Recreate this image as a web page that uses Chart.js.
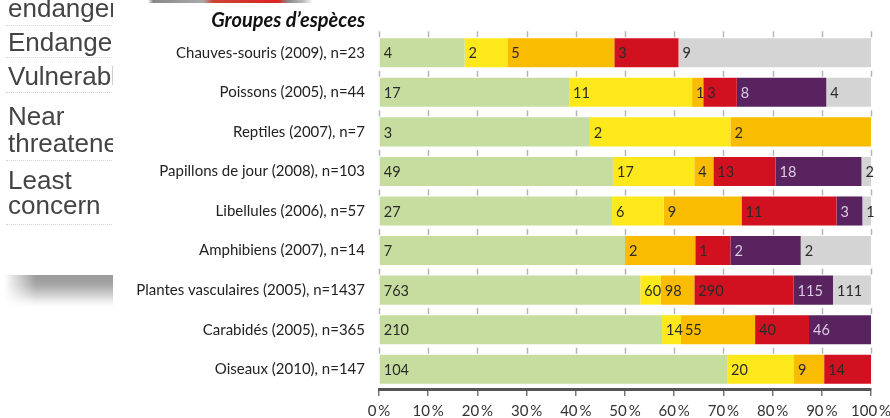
<!DOCTYPE html>
<html>
<head>
<meta charset="utf-8">
<script src="https://cdn.jsdelivr.net/npm/chart.js@4.4.1/dist/chart.umd.min.js"></script>
<style>
  html, body { margin: 0; padding: 0; background: #fff; }
  #wrap { position: relative; width: 890px; height: 418px; overflow: hidden; background: #fff; }
  #chart { position: absolute; left: 0; top: 0; }
  #title { position: absolute; right: 525px; top: 7px; font: italic bold 20px Lato, sans-serif; color: #111; white-space: nowrap; }
  #side { position: absolute; left: 0; top: 0; width: 113px; height: 418px; background: #fff; overflow: hidden; }
  #side .lab { position: absolute; left: 8px; font: 26px "Liberation Sans", Arial, sans-serif; line-height: 26px; color: #444; white-space: nowrap; filter: blur(0.5px); }
  #side .rule { position: absolute; left: 6px; width: 120px; height: 1px; border-top: 1px dotted #d4d4d4; }
  #band { position: absolute; left: 0; top: 275px; width: 113px; height: 32px;
          background: linear-gradient(to bottom, #9a9a9a 0%, #a6a6a6 30%, #cdcdcd 60%, #f2f2f2 85%, #fff 100%); }
  #bandFade { position: absolute; left: 0; top: 270px; width: 40px; height: 40px;
          background: linear-gradient(to right, #fff 4px, rgba(255,255,255,0) 36px); }
  #topStrip { position: absolute; left: 113px; top: 0; width: 777px; height: 3px;
          background: linear-gradient(to right, #fff 0px, #fff 35px, #888 40px, #aaa 90px, #c43 100px, #d22 165px, #888 175px, #bbb 190px, #fff 200px, #fff 100%); }
</style>
</head>
<body>
<div id="wrap">
  <canvas id="chart" width="890" height="418"></canvas>
  <div id="title">Groupes d’espèces</div>
  <div id="topStrip"></div>
  <div id="side">
    <div class="lab" style="top:-5px">endanger</div>
    <div class="rule" style="top:25px"></div>
    <div class="lab" style="top:29px">Endanger</div>
    <div class="rule" style="top:57px"></div>
    <div class="lab" style="top:63px">Vulnerabl</div>
    <div class="rule" style="top:92px"></div>
    <div class="lab" style="top:103px">Near</div>
    <div class="lab" style="top:130px">threatene</div>
    <div class="rule" style="top:160px"></div>
    <div class="lab" style="top:167px">Least</div>
    <div class="lab" style="top:192px">concern</div>
    <div class="rule" style="top:224px"></div>
    <div id="band"></div>
    <div id="bandFade"></div>
  </div>
</div>
<script>
// groupes d'espèces, liste rouge
const categories = [
    'Chauves-souris (2009), n=23',
    'Poissons (2005), n=44',
    'Reptiles (2007), n=7',
    'Papillons de jour (2008), n=103',
    'Libellules (2006), n=57',
    'Amphibiens (2007), n=14',
    'Plantes vasculaires (2005), n=1437',
    'Carabidés (2005), n=365',
    'Oiseaux (2010), n=147'
];
const totals = [23, 44, 7, 103, 57, 14, 1437, 365, 147];

// nombre d'espèces par catégorie
const lcCounts = [4, 17, 3, 49, 27, 7, 763, 210, 104];
const ntCounts = [2, 11, 2, 17, 6, 0, 60, 14, 20];
const vuCounts = [5, 1, 2, 4, 9, 2, 98, 55, 9];
const enCounts = [3, 3, 0, 13, 11, 1, 290, 40, 14];
const crCounts = [0, 8, 0, 18, 3, 2, 115, 46, 0];
const reCounts = [9, 4, 0, 2, 1, 2, 111, 0, 0];

const xTicks = [0, 10, 20, 30, 40, 50, 60, 70, 80, 90, 100];

const toShare = counts => counts.map((c, i) => c / totals[i] * 100);

function makeSet(label, counts, color, textColor) {
    return {
        label: label,
        data: toShare(counts),
        counts: counts,
        textColor: textColor,
        backgroundColor: color,
        borderWidth: 0,
        barPercentage: 0.735,
        categoryPercentage: 1
    };
}

// valeurs absolues dans chaque segment
const segmentLabels = {
    id: 'segmentLabels',
    afterDatasetsDraw(chart) {
        const ctx = chart.ctx;
        ctx.save();
        ctx.font = '14.5px Lato';
        ctx.textBaseline = 'middle';
        ctx.textAlign = 'left';
        chart.data.datasets.forEach((ds, di) => {
            chart.getDatasetMeta(di).data.forEach((bar, i) => {
                const count = ds.counts[i];
                if (!count) return;
                ctx.fillStyle = ds.textColor;
                ctx.fillText(String(count), Math.min(bar.base, bar.x) + 4, bar.y + 1);
            });
        });
        ctx.restore();
    }
};

// petits traits de graduation entre les barres
const gapTicks = {
    id: 'gapTicks',
    beforeDatasetsDraw(chart) {
        const ctx = chart.ctx;
        const xs = chart.scales.x;
        const bars = chart.getDatasetMeta(0).data;
        ctx.save();
        ctx.strokeStyle = '#b4b4b4';
        ctx.lineWidth = 1.5;
        bars.forEach(bar => {
            const top = bar.y - bar.height / 2;
            xTicks.forEach(v => {
                const px = Math.round(xs.getPixelForValue(v)) + 0.5;
                ctx.beginPath();
                ctx.moveTo(px, top - 7);
                ctx.lineTo(px, top - 1);
                ctx.stroke();
            });
        });
        ctx.restore();
    }
};

new Chart(document.getElementById('chart'), {
    type: 'bar',
    data: {
        labels: categories,
        datasets: [
            makeSet('Non menacé (LC)', lcCounts, '#c6dd9f', '#2b2b2b'),
            makeSet('Potentiellement menacé (NT)', ntCounts, '#fde91b', '#2b2b2b'),
            makeSet('Vulnérable (VU)', vuCounts, '#f9bc00', '#2b2b2b'),
            makeSet('En danger (EN)', enCounts, '#d21120', '#2b2b2b'),
            makeSet('Au bord de l’extinction (CR)', crCounts, '#58235f', '#dccbe2'),
            makeSet('Éteint (RE)', reCounts, '#d4d4d4', '#2b2b2b')
        ]
    },
    options: {
        indexAxis: 'y',
        responsive: false,
        animation: false,
        devicePixelRatio: 1,
        layout: { padding: { left: 0, top: 33, right: 19, bottom: 0 } },
        plugins: {
            legend: { display: false },
            tooltip: { enabled: false },
            title: { display: false }
        },
        scales: {
            x: {
                stacked: true,
                min: 0,
                max: 100,
                afterBuildTicks: s => { s.ticks = xTicks.map(v => ({ value: v })); },
                ticks: {
                    callback: v => v + '\u2009%',
                    font: { family: 'Lato', size: 15 },
                    color: '#333',
                    padding: 6,
                    maxRotation: 0,
                    autoSkip: false
                },
                grid: { drawOnChartArea: false, drawTicks: true, tickLength: 7, color: '#777', lineWidth: 1.5 },
                border: { color: '#555', width: 3 },
                afterFit: s => { s.height = 29; s.paddingLeft = 0; s.paddingRight = 0; }
            },
            y: {
                stacked: true,
                ticks: {
                    font: { family: 'Lato', size: 15 },
                    color: '#222',
                    padding: 14
                },
                grid: { display: false, drawTicks: false },
                border: { display: false },
                afterFit: s => { s.width = 379; }
            }
        }
    },
    plugins: [gapTicks, segmentLabels]
});
</script>
</body>
</html>
